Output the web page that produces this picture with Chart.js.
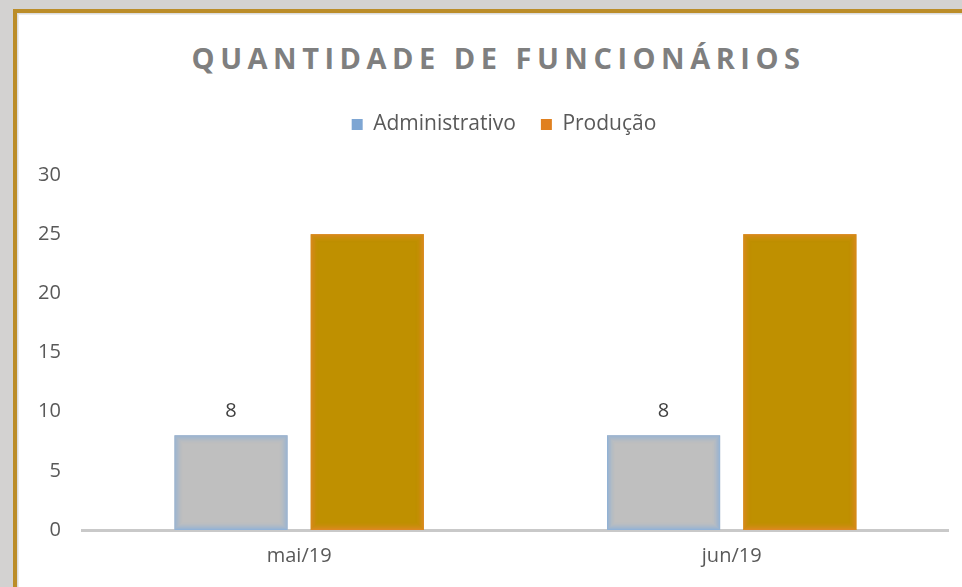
<!DOCTYPE html>
<html>
<head>
<meta charset="utf-8">
<script src="https://cdn.jsdelivr.net/npm/chart.js@4/dist/chart.umd.min.js"></script>
<style>
  html, body { margin: 0; padding: 0; }
  body { width: 962px; height: 587px; background: #d3d2d1; overflow: hidden; position: relative; font-family: "Open Sans", sans-serif; }
  #frame { position: absolute; left: 13px; top: 9px; width: 1000px; height: 700px; border: 4px solid #bb8d29; background: #ffffff; box-shadow: inset 1px 1px 0 #dcdcdc, inset 2px 2px 0 #ececec; }
  #title { position: absolute; left: 1px; width: 995px; top: 38px; text-align: center; font-family: "Open Sans", sans-serif; font-weight: bold; font-size: 29px; letter-spacing: 5.5px; color: #7f7f7f; line-height: 40px; }
  #wrap { position: absolute; left: 0; top: 0; width: 962px; height: 587px; }
</style>
</head>
<body>
<div id="frame"></div>
<div id="title">QUANTIDADE DE FUNCIONÁRIOS</div>
<div id="wrap"><canvas id="c" width="962" height="587"></canvas></div>
<script>
const categories = ["mai/19", "jun/19"];
const administrativo = [8, 8];
const producao = [25, 25];
const seriesNames = ["Administrativo", "Produção"];

const legendColors = ["#7ea6d3", "#e0801f"];
const glowColors = [[143, 177, 215], [222, 136, 36]];

const FONT = '"Open Sans", sans-serif';

const barGlow = {
  id: 'barGlow',
  afterDatasetsDraw(chart) {
    const ctx = chart.ctx;
    chart.data.datasets.forEach((ds, d) => {
      const meta = chart.getDatasetMeta(d);
      const [r, g, b] = glowColors[d];
      meta.data.forEach(el => {
        const left = el.x - el.width / 2, right = el.x + el.width / 2;
        const top = Math.min(el.y, el.base), bottom = Math.max(el.y, el.base);
        ctx.save();
        for (let i = 0; i < 8; i++) {
          const a = 0.95 * Math.pow(1 - i / 8, 1.8);
          ctx.strokeStyle = `rgba(${r},${g},${b},${a})`;
          ctx.lineWidth = 1;
          ctx.strokeRect(left + i + 0.5, top + i + 0.5, right - left - 2 * i - 1, bottom - top - 2 * i - 1);
        }
        ctx.restore();
      });
    });
  }
};

const valueLabels = {
  id: 'valueLabels',
  afterDatasetsDraw(chart) {
    const ctx = chart.ctx;
    const meta = chart.getDatasetMeta(0);
    const ds = chart.data.datasets[0];
    ctx.save();
    ctx.font = '20px ' + FONT;
    ctx.fillStyle = '#404040';
    ctx.textAlign = 'center';
    ctx.textBaseline = 'middle';
    meta.data.forEach((el, i) => {
      ctx.fillText(String(ds.data[i]), el.x, el.y - 24);
    });
    ctx.restore();
  }
};

const legendTweak = {
  id: 'legendTweak',
  beforeInit(chart) {
    const lg = chart.legend;
    if (lg) {
      const orig = lg.fit;
      lg.fit = function () { orig.call(this); this.height += 30; };
    }
  },
  afterLayout(chart) {
    const lg = chart.legend;
    if (lg) { lg.left += 22; lg.right += 22; }
  }
};

new Chart(document.getElementById('c'), {
  type: 'bar',
  data: {
    labels: categories,
    datasets: [
      {
        label: seriesNames[0],
        data: administrativo,
        backgroundColor: '#bfbfbf',
        borderWidth: 0,
        barPercentage: 0.83,
        categoryPercentage: 0.63
      },
      {
        label: seriesNames[1],
        data: producao,
        backgroundColor: '#bf9000',
        borderWidth: 0,
        barPercentage: 0.83,
        categoryPercentage: 0.63
      }
    ]
  },
  options: {
    responsive: false,
    animation: false,
    layout: { padding: { left: 16, right: 14, top: 89, bottom: 5 } },
    plugins: {
      title: { display: false },
      tooltip: { enabled: false },
      legend: {
        display: true,
        position: 'top',
        labels: {
          font: { family: FONT, size: 21 },
          color: '#595959',
          boxWidth: 11,
          boxHeight: 11,
          padding: 25,
          generateLabels(chart) {
            const items = Chart.defaults.plugins.legend.labels.generateLabels(chart);
            items.forEach((it, i) => {
              it.fillStyle = legendColors[i];
              it.strokeStyle = legendColors[i];
              it.lineWidth = 0;
            });
            return items;
          }
        }
      }
    },
    scales: {
      x: {
        grid: { display: false, drawTicks: false },
        border: { display: true, color: '#c9c9c9', width: 3 },
        ticks: { font: { family: FONT, size: 20 }, color: '#595959', padding: 14 }
      },
      y: {
        min: 0,
        max: 30,
        grid: { display: false, drawTicks: false },
        border: { display: false },
        ticks: { stepSize: 5, font: { family: FONT, size: 20 }, color: '#595959', padding: 22 }
      }
    }
  },
  plugins: [barGlow, valueLabels, legendTweak]
});
</script>
</body>
</html>
